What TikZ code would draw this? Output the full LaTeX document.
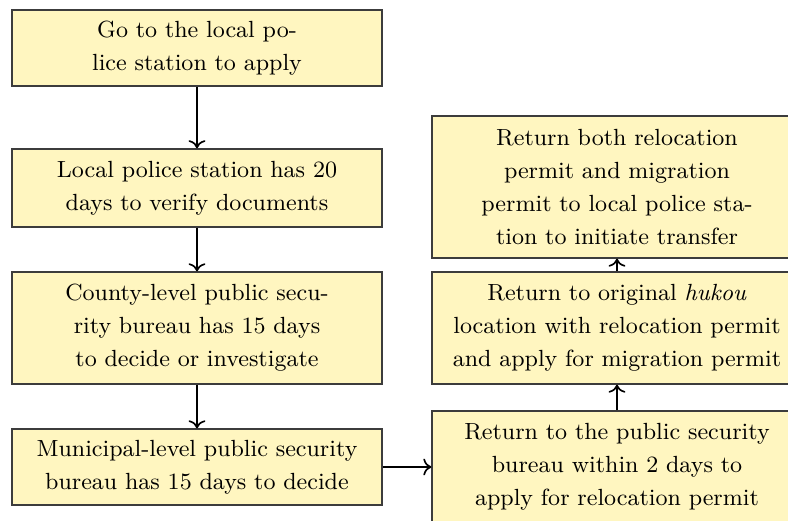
\documentclass[tikz,border=0pt]{standalone}
\usetikzlibrary{arrows.meta}
\definecolor{boxfill}{RGB}{255,246,192}
\definecolor{boxline}{RGB}{60,60,60}
\tikzset{
  flowbox/.style={draw=boxline, fill=boxfill, line width=0.5pt, inner sep=0pt,
    minimum width=134.5pt, text width=134.5pt, align=center,
    font=\fontsize{8.5}{12}\selectfont},
  flowarrow/.style={->, line width=0.6pt, black}
}
\begin{document}
\begin{tikzpicture}[x=0.3636pt,y=-0.3636pt]
\useasboundingbox (0,0) rectangle (788,521);
\clip (0,0) rectangle (788,521);
\node[flowbox, minimum height=27.6pt] (b1) at (197,48) {Go to the local po-\\lice station to apply};
\node[flowbox, minimum height=28.4pt] (b2) at (197,188) {Local police station has 20\\days to verify documents};
\node[flowbox, minimum height=40.7pt] (b3) at (197,328) {County-level public secu-\\rity bureau has 15 days\\to decide or investigate};
\node[flowbox, minimum height=27.6pt] (b4) at (197,467) {Municipal-level public security\\bureau has 15 days to decide};
\node[flowbox, minimum height=40.7pt] (r1) at (617,467) {Return to the public security\\bureau within 2 days to\\apply for relocation permit};
\node[flowbox, minimum height=40.7pt] (r2) at (617,328) {Return to original \emph{hukou}\\location with relocation permit\\and apply for migration permit};
\node[flowbox, minimum height=51.6pt] (r3) at (617,187) {Return both relocation\\permit and migration\\permit to local police sta-\\tion to initiate transfer};
\draw[flowarrow] (b1) -- (b2);
\draw[flowarrow] (b2) -- (b3);
\draw[flowarrow] (b3) -- (b4);
\draw[flowarrow] (b4) -- (r1);
\draw[flowarrow] (r1) -- (r2);
\draw[flowarrow] (r2) -- (r3);
\end{tikzpicture}
\end{document}
